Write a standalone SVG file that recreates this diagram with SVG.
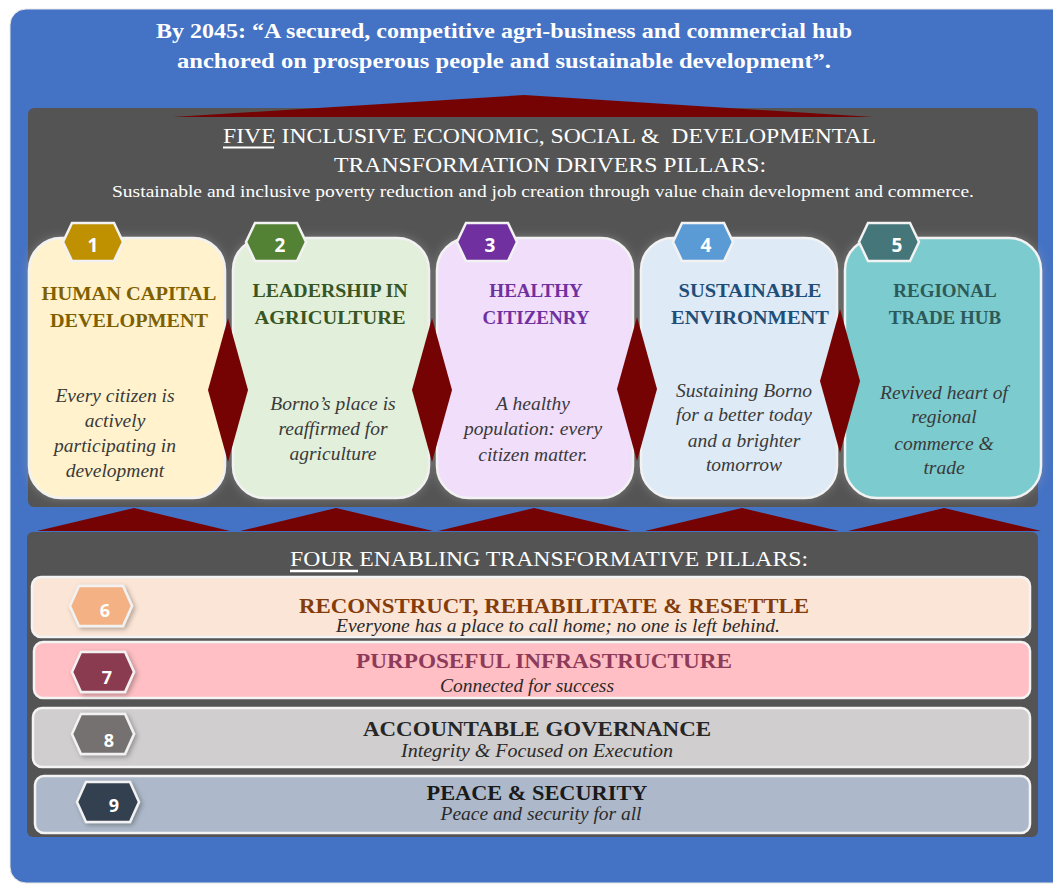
<svg xmlns="http://www.w3.org/2000/svg" width="1053" height="884" viewBox="0 0 1053 884">
<defs>
<style>
.serif{font-family:"Liberation Serif","DejaVu Serif",serif}
.ttl{font-family:"Liberation Serif",serif;font-weight:bold;fill:#fff;font-size:21px;text-anchor:middle}
.hdr{font-family:"Liberation Serif",serif;fill:#fff;font-size:21px;text-anchor:middle}
.ct{font-family:"Liberation Serif",serif;font-weight:bold;font-size:19px;text-anchor:middle}
.cd{font-family:"Liberation Serif",serif;font-style:italic;font-size:19.5px;fill:#3a3a3a;text-anchor:middle}
.bt{font-family:"Liberation Serif",serif;font-weight:bold;font-size:21px;text-anchor:middle}
.bs{font-family:"Liberation Serif",serif;font-style:italic;font-size:18px;fill:#2a2a2a;text-anchor:middle}
.num{font-family:"Open Sans","Liberation Sans",sans-serif;font-weight:bold;font-size:19px;fill:#fff;text-anchor:middle}
.card{stroke:#f2f2f2;stroke-width:2.5}
.bar{stroke:#f4f4f4;stroke-width:2.5}
.hex{stroke:#f2f2f2;stroke-width:2.5}
.red{fill:#760303}
</style>
<filter id="glow" x="-15%" y="-15%" width="130%" height="130%">
<feGaussianBlur in="SourceAlpha" stdDeviation="5" result="b"/>
<feFlood flood-color="#9a9a9a" flood-opacity="0.55"/>
<feComposite in2="b" operator="in" result="g"/>
<feMerge><feMergeNode in="g"/><feMergeNode in="SourceGraphic"/></feMerge>
</filter>
<filter id="sh" x="-20%" y="-20%" width="140%" height="140%">
<feGaussianBlur in="SourceAlpha" stdDeviation="2.5" result="b"/>
<feOffset dx="2" dy="2" in="b" result="o"/>
<feFlood flood-color="#000" flood-opacity="0.3"/>
<feComposite in2="o" operator="in" result="g"/>
<feMerge><feMergeNode in="g"/><feMergeNode in="SourceGraphic"/></feMerge>
</filter>
<polygon id="hx" points="-30,0 -21,-19 21,-19 30,0 21,19 -21,19"/>
<polygon id="hb" points="-31,0 -22,-20 22,-20 31,0 22,20 -22,20"/>
</defs>
<rect width="1053" height="884" fill="#ffffff"/>
<rect x="10" y="9" width="1060" height="874" rx="16" fill="#4472C4" stroke="#e6e6e6" stroke-width="1"/>

<g id="vision">
<text class="ttl" x="504" y="38" textLength="696" lengthAdjust="spacingAndGlyphs">By 2045: “A secured, competitive agri-business and commercial hub</text>
<text class="ttl" x="504" y="68" textLength="654" lengthAdjust="spacingAndGlyphs">anchored on prosperous people and sustainable development”.</text>
</g>

<g id="drivers-panel">
<rect x="28" y="108" width="1010" height="399" rx="6" fill="#545454"/>
<text class="hdr" x="549.5" y="143" textLength="653" lengthAdjust="spacingAndGlyphs">FIVE INCLUSIVE ECONOMIC, SOCIAL &amp;&#160; DEVELOPMENTAL</text>
<line x1="223" y1="147.5" x2="274" y2="147.5" stroke="#fff" stroke-width="2"/>
<text class="hdr" x="550" y="172" textLength="432" lengthAdjust="spacingAndGlyphs">TRANSFORMATION DRIVERS PILLARS:</text>
<text class="hdr" x="543" y="197" style="font-size:17px" textLength="862" lengthAdjust="spacingAndGlyphs">Sustainable and inclusive poverty reduction and job creation through value chain development and commerce.</text>
</g>

<g id="card1">
<rect class="card" x="29" y="238" width="196" height="260" rx="32" fill="#FFF2CC" filter="url(#glow)"/>
<use href="#hx" x="93" y="242" fill="#BF9000" class="hex"/>
<text class="num" x="93" y="252">1</text>
<text class="ct" x="129" y="300" fill="#7F6000" textLength="175" lengthAdjust="spacingAndGlyphs">HUMAN CAPITAL</text>
<text class="ct" x="129" y="327" fill="#7F6000" textLength="158" lengthAdjust="spacingAndGlyphs">DEVELOPMENT</text>
<text class="cd" x="115" y="402">Every citizen is</text>
<text class="cd" x="115" y="427">actively</text>
<text class="cd" x="115" y="452">participating in</text>
<text class="cd" x="115" y="477">development</text>
</g>

<g id="card2">
<rect class="card" x="233" y="238" width="196" height="260" rx="32" fill="#E2EFDA" filter="url(#glow)"/>
<use href="#hx" x="276" y="242" fill="#548235" class="hex"/>
<text class="num" x="280" y="252">2</text>
<text class="ct" x="330" y="297" fill="#375623" textLength="155" lengthAdjust="spacingAndGlyphs">LEADERSHIP IN</text>
<text class="ct" x="330" y="324" fill="#375623" textLength="151" lengthAdjust="spacingAndGlyphs">AGRICULTURE</text>
<text class="cd" x="333" y="410">Borno’s place is</text>
<text class="cd" x="333" y="435">reaffirmed for</text>
<text class="cd" x="333" y="460">agriculture</text>
</g>

<g id="card3">
<rect class="card" x="437" y="238" width="196" height="260" rx="32" fill="#F1DEFB" filter="url(#glow)"/>
<use href="#hx" x="487" y="242" fill="#7030A0" class="hex"/>
<text class="num" x="490" y="252">3</text>
<text class="ct" x="536" y="297" fill="#7030A0">HEALTHY</text>
<text class="ct" x="536" y="324" fill="#7030A0">CITIZENRY</text>
<text class="cd" x="533" y="410">A healthy</text>
<text class="cd" x="533" y="435">population: every</text>
<text class="cd" x="533" y="461">citizen matter.</text>
</g>

<g id="card4">
<rect class="card" x="641" y="238" width="196" height="260" rx="32" fill="#DEEAF6" filter="url(#glow)"/>
<use href="#hx" x="703" y="242" fill="#5B9BD5" class="hex"/>
<text class="num" x="706" y="252">4</text>
<text class="ct" x="750" y="297" fill="#1F4E79" textLength="143" lengthAdjust="spacingAndGlyphs">SUSTAINABLE</text>
<text class="ct" x="750" y="324" fill="#1F4E79" textLength="158" lengthAdjust="spacingAndGlyphs">ENVIRONMENT</text>
<text class="cd" x="744" y="397">Sustaining Borno</text>
<text class="cd" x="744" y="421">for a better today</text>
<text class="cd" x="744" y="447">and a brighter</text>
<text class="cd" x="744" y="471">tomorrow</text>
</g>

<g id="card5">
<rect class="card" x="845" y="238" width="196" height="260" rx="32" fill="#7BCBCE" filter="url(#glow)"/>
<use href="#hx" x="889" y="242" fill="#44767A" class="hex"/>
<text class="num" x="897" y="252">5</text>
<text class="ct" x="945" y="297" fill="#2D5A58">REGIONAL</text>
<text class="ct" x="945" y="324" fill="#2D5A58">TRADE HUB</text>
<text class="cd" x="944" y="399">Revived heart of</text>
<text class="cd" x="944" y="423">regional</text>
<text class="cd" x="944" y="450">commerce &amp;</text>
<text class="cd" x="944" y="474">trade</text>
</g>

<g id="connectors">
<polygon class="red" points="173,117 524,95 873,117"/>
<polygon class="red" points="208,390 228,318 248,390 228,462"/>
<polygon class="red" points="412,390 432,318 452,390 432,462"/>
<polygon class="red" points="617,389 637,317 657,389 637,461"/>
<polygon class="red" points="820,381 840,309 860,381 840,453"/>
<polygon class="red" points="37,531 134,508 230,531"/>
<polygon class="red" points="240,531 336,508 433,531"/>
<polygon class="red" points="438,531 534,508 631,531"/>
<polygon class="red" points="645,531 742,508 839,531"/>
<polygon class="red" points="848,531 944,508 1041,531"/>
</g>

<g id="enablers-panel">
<rect x="27" y="532" width="1011" height="305" rx="6" fill="#545454"/>
<text class="hdr" x="549" y="566" textLength="518" lengthAdjust="spacingAndGlyphs">FOUR ENABLING TRANSFORMATIVE PILLARS:</text>
<line x1="290" y1="571" x2="358" y2="571" stroke="#fff" stroke-width="2.5"/>
</g>

<g id="bar6">
<rect class="bar" x="32" y="577" width="998" height="60" rx="9" fill="#FBE5D6"/>
<use href="#hb" x="101" y="606" fill="#F4B183" class="hex" filter="url(#sh)"/>
<text class="num" x="105" y="617" style="font-size:18px">6</text>
<text class="bt" x="554" y="613" fill="#843C0C" textLength="510" lengthAdjust="spacingAndGlyphs">RECONSTRUCT, REHABILITATE &amp; RESETTLE</text>
<text class="bs" x="558" y="632" textLength="444" lengthAdjust="spacingAndGlyphs">Everyone has a place to call home; no one is left behind.</text>
</g>

<g id="bar7">
<rect class="bar" x="34" y="642" width="996" height="56" rx="9" fill="#FFBFC4"/>
<use href="#hb" x="103" y="672" fill="#8B3A50" class="hex" filter="url(#sh)"/>
<text class="num" x="107" y="684" style="font-size:18px">7</text>
<text class="bt" x="544" y="668" fill="#8E3A59" textLength="376" lengthAdjust="spacingAndGlyphs">PURPOSEFUL INFRASTRUCTURE</text>
<text class="bs" x="527" y="692" textLength="174" lengthAdjust="spacingAndGlyphs">Connected for success</text>
</g>

<g id="bar8">
<rect class="bar" x="33" y="708" width="997" height="59" rx="9" fill="#D0CECE"/>
<use href="#hb" x="103" y="734" fill="#767171" class="hex" filter="url(#sh)"/>
<text class="num" x="109" y="747" style="font-size:18px">8</text>
<text class="bt" x="537" y="736" fill="#262626" textLength="348" lengthAdjust="spacingAndGlyphs">ACCOUNTABLE GOVERNANCE</text>
<text class="bs" x="537" y="757" textLength="272" lengthAdjust="spacingAndGlyphs">Integrity &amp; Focused on Execution</text>
</g>

<g id="bar9">
<rect class="bar" x="35" y="776" width="995" height="57" rx="9" fill="#ADB9CA"/>
<use href="#hb" x="108" y="802" fill="#333F50" class="hex" filter="url(#sh)"/>
<text class="num" x="114" y="812" style="font-size:18px">9</text>
<text class="bt" x="537" y="800" fill="#1a1a1a" textLength="221" lengthAdjust="spacingAndGlyphs">PEACE &amp; SECURITY</text>
<text class="bs" x="541" y="820" textLength="201" lengthAdjust="spacingAndGlyphs">Peace and security for all</text>
</g>
</svg>
